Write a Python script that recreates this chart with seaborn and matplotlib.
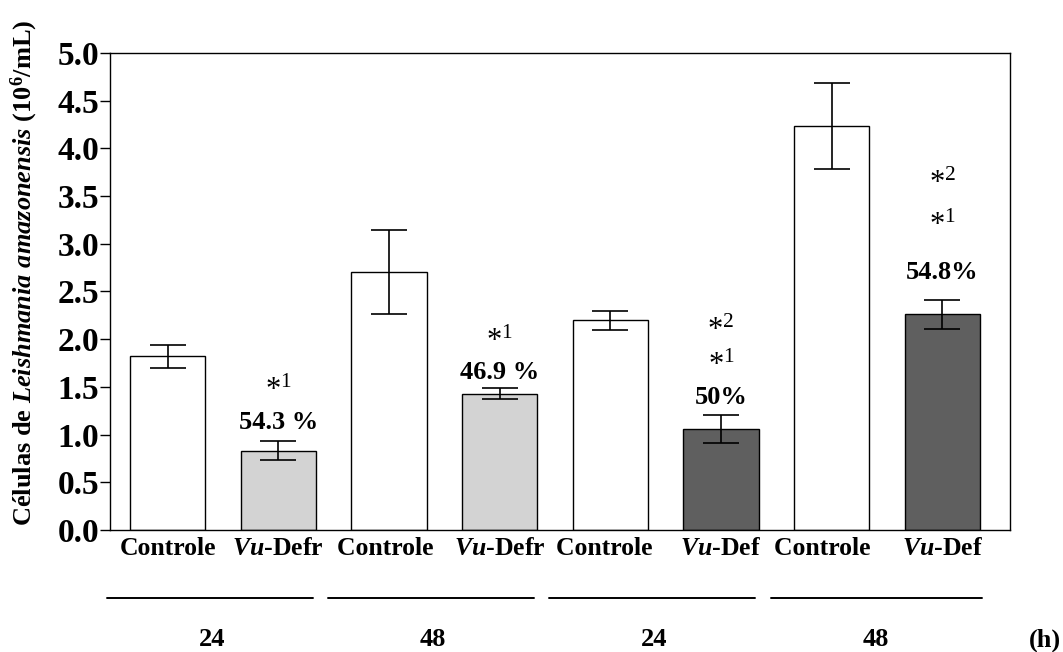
import matplotlib
matplotlib.use("Agg")
import matplotlib.pyplot as plt
import seaborn as sns
import pandas as pd
import numpy as np

# ---- data ----
categories = ["Controle", "$\\mathit{Vu}$-Defr", "Controle ", "$\\mathit{Vu}$-Defr ",
              "Controle  ", "$\\mathit{Vu}$-Def", "Controle   ", "$\\mathit{Vu}$-Def "]
values = [1.82, 0.83, 2.70, 1.43, 2.20, 1.06, 4.23, 2.26]
errors = [0.12, 0.10, 0.44, 0.06, 0.10, 0.15, 0.45, 0.15]
bar_colors = ["#ffffff", "#d3d3d3", "#ffffff", "#d3d3d3", "#ffffff", "#5f5f5f", "#ffffff", "#5f5f5f"]
group_labels = ["24", "48", "24", "48"]
pct_labels = {1: ("54.3 %", 1.13), 3: ("46.9 %", 1.65), 5: ("50%", 1.39), 7: ("54.8%", 2.70)}
star_labels = [(1, "1", 1.47), (3, "1", 1.99), (5, "1", 1.73), (5, "2", 2.10),
               (7, "1", 3.20), (7, "2", 3.64)]
yticks = [0.0, 0.5, 1.0, 1.5, 2.0, 2.5, 3.0, 3.5, 4.0, 4.5, 5.0]

sns.set_style("white")
plt.rcParams['font.family'] = ['Liberation Serif', 'DejaVu Serif']
plt.rcParams['mathtext.fontset'] = 'custom'
plt.rcParams['mathtext.rm'] = 'Liberation Serif'
plt.rcParams['mathtext.it'] = 'Liberation Serif:italic:bold'
plt.rcParams['mathtext.bf'] = 'Liberation Serif:bold'
for k in ['text.color', 'axes.labelcolor', 'xtick.color', 'ytick.color', 'axes.edgecolor']:
    plt.rcParams[k] = 'black'

df = pd.DataFrame({"cat": categories, "val": values})

fig = plt.figure(figsize=(10.63, 6.52), dpi=100)
ax = fig.add_axes([0.1035, 0.187, 0.8465, 0.732])

sns.barplot(data=df, x="cat", y="val", hue="cat", palette=bar_colors, legend=False,
            width=0.68, edgecolor="black", linewidth=1.0, ax=ax, errorbar=None)
x = np.arange(len(values))
ax.errorbar(x, values, yerr=errors, fmt="none", ecolor="black", elinewidth=1.2,
            capsize=13, capthick=1.2)

ax.set_ylim(0, 5.0)
ax.set_xlim(-0.52, 7.61)
ax.set_yticks(yticks)
ax.set_yticklabels([f"{t:.1f}" for t in yticks], fontsize=24, fontweight="bold")
ax.tick_params(axis="y", direction="out", length=7, width=1, left=True, pad=1)
ax.tick_params(axis="x", length=0, pad=5)
for lab in ax.get_xticklabels():
    lab.set_fontsize(18.5)
    lab.set_fontweight("bold")
for s in ax.spines.values():
    s.set_color("black")
    s.set_linewidth(1.0)
ax.set_xlabel("")
ax.set_ylabel("Células de $\\mathit{Leishmania\\ amazonensis}$ (10$^{\\mathbf{6}}$/mL)",
              fontsize=19, fontweight="bold")
ax.yaxis.set_label_coords(-0.078, 0.54)

for i, (txt, yv) in pct_labels.items():
    ax.text(i, yv, txt, ha="center", va="center", fontsize=19, fontweight="bold")
for i, num, yv in star_labels:
    ax.text(i, yv, "*$^{" + num + "}$", ha="center", va="center", fontsize=22)

trans = ax.get_xaxis_transform()
for g, lab in enumerate(group_labels):
    cx = 2 * g + 0.5
    ax.plot([cx - 0.12 - 0.93, cx - 0.12 + 0.93 + 0.05 * (g == 3)], [-0.1426, -0.1426],
            transform=trans, color="black", lw=1.4, clip_on=False)
    ax.text(cx - 0.1, -0.23, lab, transform=trans, ha="center", va="center",
            fontsize=19, fontweight="bold", clip_on=False)
ax.text(1.039, -0.23, "(h)", transform=ax.transAxes, ha="center", va="center",
        fontsize=19, fontweight="bold", clip_on=False)

fig.savefig("out.png", dpi=100)
